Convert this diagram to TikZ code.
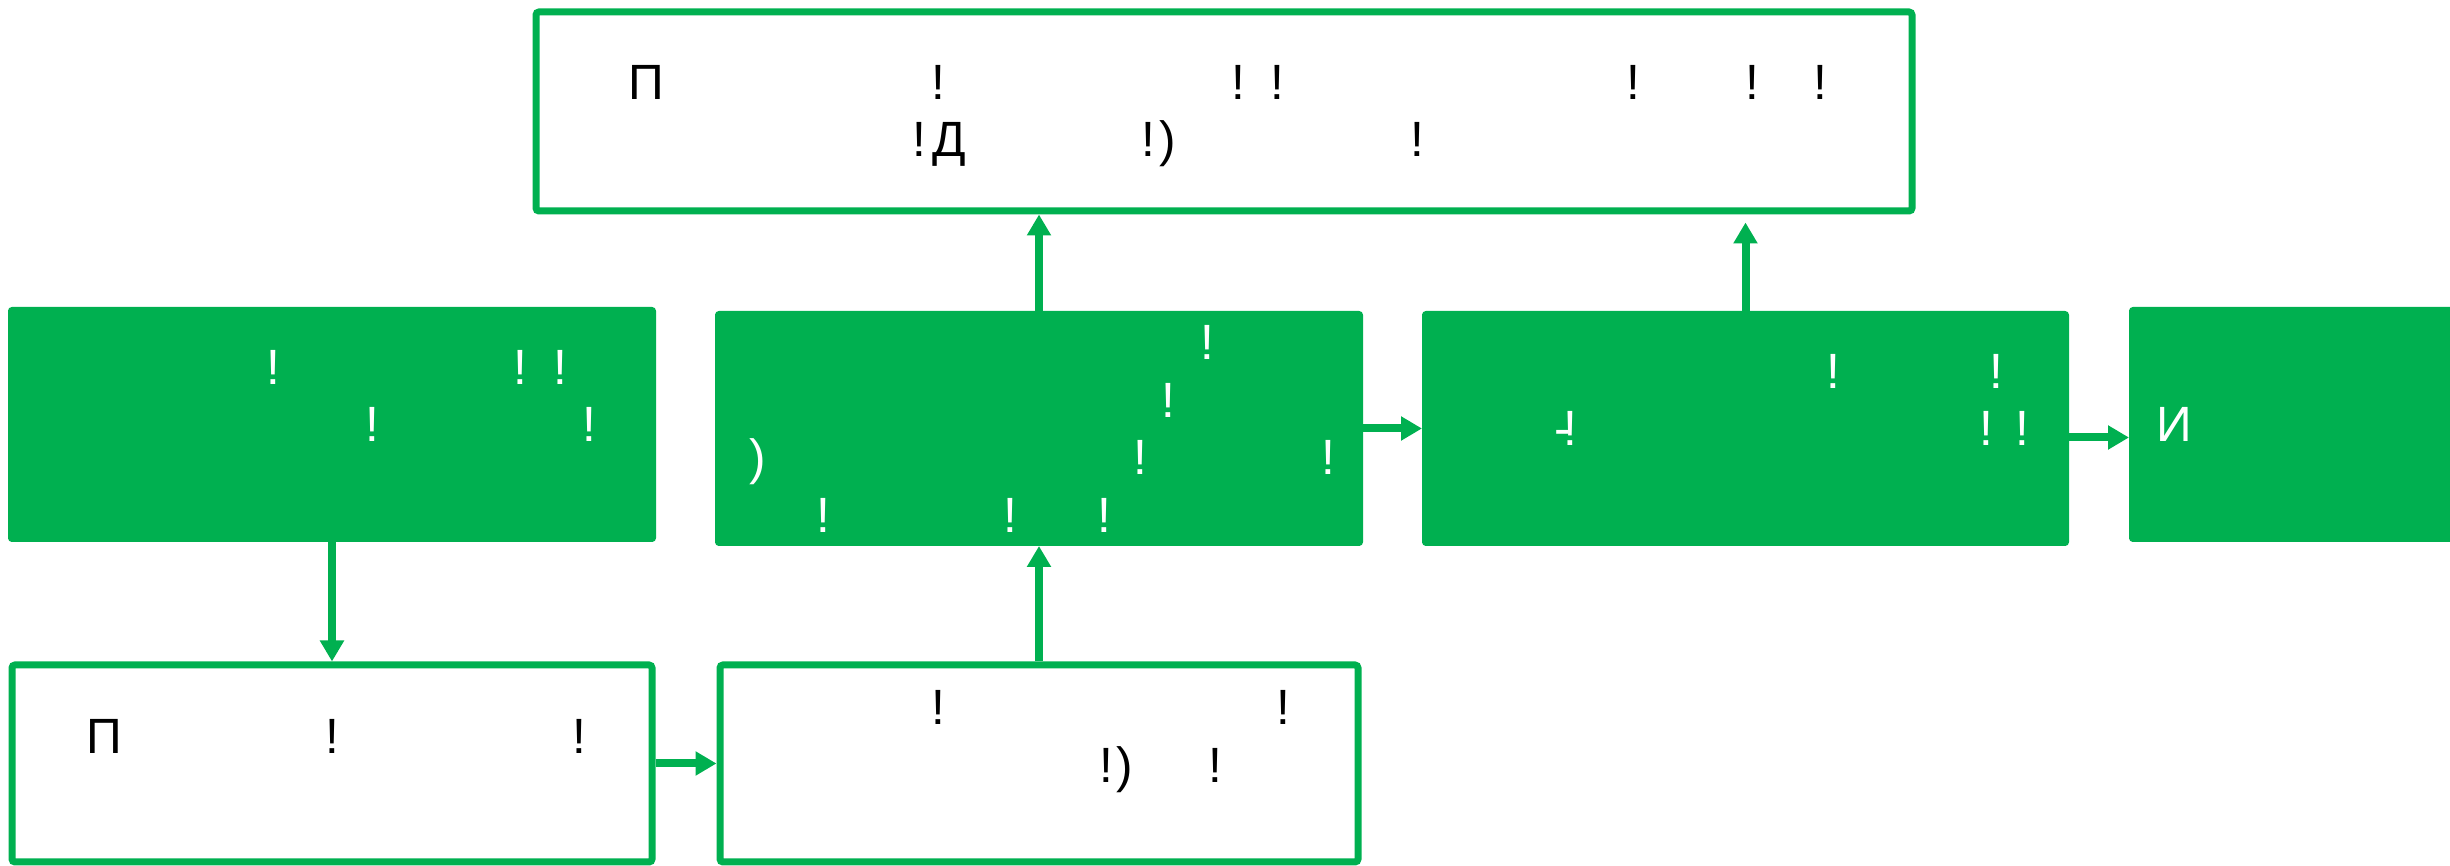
\documentclass[tikz,border=0pt]{standalone}
\usepackage{fontspec}
\setmainfont{Liberation Sans}
\usetikzlibrary{arrows.meta}
\definecolor{boxgreen}{HTML}{00B050}
\tikzset{
  greenbox/.style={draw=boxgreen, fill=boxgreen, line width=0.2mm, rounded corners=0.3mm},
  whitebox/.style={draw=boxgreen, fill=white, line width=0.7mm, rounded corners=0.3mm},
  flow/.style={draw=boxgreen, line width=0.8mm, -{Triangle[length=2.1mm, width=2.3mm]}},
  glyph/.style={anchor=base, inner sep=0pt, font=\fontsize{14.1}{17}\selectfont},
  wglyph/.style={glyph, text=white},
}
\begin{document}
\begin{tikzpicture}[x=0.1mm, y=-0.1mm]
            \useasboundingbox (0,0) rectangle (2450,866);
            \clip (0,0) rectangle (2450,866);
            \node [whitebox, minimum width=137.6mm, minimum height=19.9mm] (plan) at (1224,111.5) {};
            \node [greenbox, minimum width=64.6mm, minimum height=23.3mm] (g1) at (332,424.5) {};
            \node [greenbox, minimum width=64.6mm, minimum height=23.3mm] (g2) at (1039,428.5) {};
            \node [greenbox, minimum width=64.5mm, minimum height=23.3mm] (g3) at (1745.5,428.5) {};
            \node [greenbox, minimum width=64.6mm, minimum height=23.3mm] (g4) at (2453,424.5) {};
            \node [whitebox, minimum width=64mm, minimum height=19.7mm] (wl) at (332,763.5) {};
            \node [whitebox, minimum width=63.8mm, minimum height=19.7mm] (wm) at (1039,763.5) {};
            \draw [flow] (g1.south) -- (wl.north);
            \draw [flow] (wl.east) -- (wm.west);
            \draw [flow] (wm.north) -- (g2.south);
            \draw [flow] (g2.north) -- (g2.north |- plan.south);
            \draw [flow] (g2.east) -- (g3.west);
            \draw [flow, shorten >=0.8mm] (g3.north) -- (g3.north |- plan.south);
            \draw [flow] ([yshift=-0.9mm]g3.east) -- ([yshift=-0.9mm]g3.east -| g4.west);
            \node [glyph] (p1) at (646,100) {П};
            \node [glyph] (p2) at (938,100) {!};
            \node [glyph] (p3) at (1238,100) {!};
            \node [glyph] (p4) at (1277,100) {!};
            \node [glyph] (p5) at (1633,100) {!};
            \node [glyph] (p6) at (1752,100) {!};
            \node [glyph] (p7) at (1820,100) {!};
            \node [glyph] (p8) at (919,157) {!};
            \node [glyph] (p9) at (949.5,157) {Д};
            \node [glyph] (p10) at (1148,157) {!};
            \node [glyph] (p11) at (1168,157) {)};
            \node [glyph] (p12) at (1417,157) {!};
            \node [wglyph] (a1) at (273,385) {!};
            \node [wglyph] (a2) at (520,385) {!};
            \node [wglyph] (a3) at (560,385) {!};
            \node [wglyph] (a4) at (372,442) {!};
            \node [wglyph] (a5) at (589,442) {!};
            \node [wglyph] (b1) at (1207,360) {!};
            \node [wglyph] (b2) at (1168,418) {!};
            \node [wglyph] (b3) at (758,475) {)};
            \node [wglyph] (b4) at (1140,475) {!};
            \node [wglyph] (b5) at (1328,475) {!};
            \node [wglyph] (b6) at (823,533) {!};
            \node [wglyph] (b7) at (1010,533) {!};
            \node [wglyph] (b8) at (1104,533) {!};
            \node [wglyph] (c1) at (1833,389) {!};
            \node [wglyph] (c2) at (1996,389) {!};
            \node [wglyph] (c3) at (1563,446) {-};
            \node [wglyph] (c4) at (1570,446) {!};
            \node [wglyph] (c5) at (1986,446) {!};
            \node [wglyph] (c6) at (2022,446) {!};
            \node [wglyph] (d1) at (2174,442) {И};
            \node [glyph] (e1) at (104.5,754) {П};
            \node [glyph] (e2) at (332,754) {!};
            \node [glyph] (e3) at (579,754) {!};
            \node [glyph] (f1) at (938,725) {!};
            \node [glyph] (f2) at (1283,725) {!};
            \node [glyph] (f3) at (1106,783) {!};
            \node [glyph] (f4) at (1125,783) {)};
            \node [glyph] (f5) at (1215,783) {!};
\end{tikzpicture}
\end{document}
